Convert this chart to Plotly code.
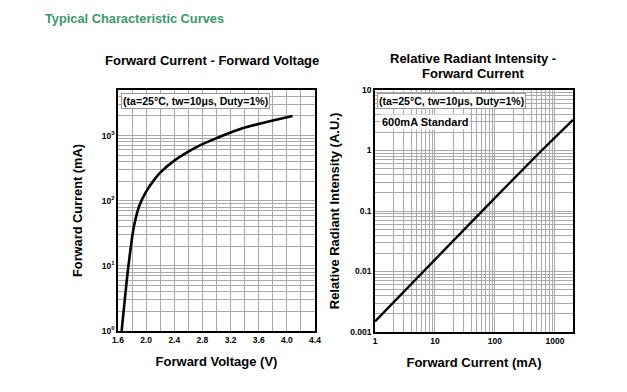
import plotly.graph_objects as go
import numpy as np

# ---- data ----
fv_voltage = [1.652, 1.747, 1.826, 1.907, 2.00, 2.095, 2.213, 2.40, 2.60, 2.80, 3.00, 3.20, 3.43, 3.71, 4.08]
fv_current = [1.0, 9.7, 40.0, 86.0, 138.0, 196.0, 279.0, 412.0, 567.0, 738.0, 912.0, 1112.0, 1350.0, 1608.0, 2000.0]

ri_current = [1, 10, 100, 600, 2000]
ri_intensity = [0.0015, 0.016, 0.165, 1.0, 3.2]

fv_xticks = [1.6, 2.0, 2.4, 2.8, 3.2, 3.6, 4.0, 4.4]
fv_xtext = ["1.6", "2.0", "2.4", "2.8", "3.2", "3.6", "4.0", "4.4"]
fv_yticks = [1, 10, 100, 1000]
fv_ytext = ["10<sup>0</sup>", "10<sup>1</sup>", "10<sup>2</sup>", "10<sup>3</sup>"]
ri_xticks = [1, 10, 100, 1000]
ri_xtext = ["1", "10", "100", "1000"]
ri_yticks = [0.001, 0.01, 0.1, 1, 10]
ri_ytext = ["0.001", "0.01", "0.1", "1", "10"]

W, H = 627, 392
def px(x):
    return x / W
def py(y):
    return 1 - y / H

FONT = "Liberation Sans, Arial, sans-serif"
GRID = "#aaaaaa"

def log_grid(lo_exp, hi_exp, extra_hi=None):
    vals = []
    for e in range(lo_exp, hi_exp):
        for m in range(1, 10):
            vals.append(m * 10.0 ** e)
    if extra_hi:
        vals += extra_hi
    return vals

fig = go.Figure()
fig.add_trace(go.Scatter(x=fv_voltage, y=fv_current, mode="lines",
                         line=dict(color="black", width=2.6, shape="spline", smoothing=0.8),
                         xaxis="x", yaxis="y", showlegend=False))
fig.add_trace(go.Scatter(x=ri_current, y=ri_intensity, mode="lines", line=dict(color="black", width=2.4),
                         xaxis="x2", yaxis="y2", showlegend=False))

tickfont = dict(family=FONT, size=8.5, color="black", weight="bold")
titlefont = dict(family=FONT, size=13, color="black", weight="bold")

fv_xgrid = [round(1.6 + 0.2 * i, 1) for i in range(15)]
fv_ygrid = log_grid(0, 3, [2000, 3000, 4000, 5000])
ri_xgrid = log_grid(0, 3, [2000])
ri_ygrid = log_grid(-3, 1)

axis_common = dict(showline=True, linecolor="black", linewidth=1.5, mirror=True, showgrid=True,
                   gridcolor=GRID, gridwidth=1.3, ticks="", zeroline=False, tickfont=tickfont,
                   tickmode="array", automargin=False)

def minor(vals):
    return dict(tickmode="array", tickvals=vals, showgrid=True, gridcolor=GRID, gridwidth=1.3, ticks="")

fig.update_layout(
    width=W, height=H, autosize=False,
    margin=dict(l=0, r=0, t=0, b=0),
    paper_bgcolor="white", plot_bgcolor="white",
    title=dict(text="Typical Characteristic Curves", x=px(45), y=py(19), xref="paper", yref="paper",
               xanchor="left", yanchor="middle",
               font=dict(family=FONT, size=12.8, color="#3a9a6c", weight="bold")),
    xaxis=dict(domain=[px(118), px(315)], range=[1.6, 4.4], anchor="y",
               tickvals=fv_xticks, ticktext=fv_xtext, minor=minor(fv_xgrid),
               title=dict(text="Forward Voltage (V)", font=titlefont, standoff=13), **axis_common),
    yaxis=dict(domain=[py(331), py(90)], type="log", range=[0, np.log10(5000)], anchor="x",
               tickvals=fv_yticks, ticktext=fv_ytext, minor=minor(fv_ygrid),
               title=dict(text="Forward Current (mA)", font=dict(titlefont, size=12.8), standoff=16), **axis_common),
    xaxis2=dict(domain=[px(375), px(573)], type="log", range=[0, np.log10(2000)], anchor="y2",
                tickvals=ri_xticks, ticktext=ri_xtext, minor=minor(ri_xgrid),
                title=dict(text="Forward Current (mA)", font=titlefont, standoff=13), **axis_common),
    yaxis2=dict(domain=[py(332), py(90)], type="log", range=[-3, 1], anchor="x2",
                tickvals=ri_yticks, ticktext=ri_ytext, minor=minor(ri_ygrid),
                title=dict(text="Relative Radiant Intensity (A.U.)", font=titlefont, standoff=8), **axis_common),
)

def txt(text, x, y, size=12, color="black", xanchor="center", yanchor="middle", angle=0, bold=True, **kw):
    fig.add_annotation(text=text, x=px(x), y=py(y), xref="paper", yref="paper", showarrow=False,
                       xanchor=xanchor, yanchor=yanchor, textangle=angle,
                       font=dict(family=FONT, size=size, color=color, weight="bold" if bold else "normal"), **kw)

txt("Forward Current - Forward Voltage", 212, 60, size=13)
txt("Relative Radiant Intensity -", 473, 59, size=13)
txt("Forward Current", 473, 73, size=13)

txt("(ta=25°C, tw=10μs, Duty=1%)", 121, 101, size=10.6, xanchor="left",
    bgcolor="white", bordercolor="#999999", borderwidth=1, borderpad=1)
txt("(ta=25°C, tw=10μs, Duty=1%)", 377, 101, size=10.6, xanchor="left",
    bgcolor="white", bordercolor="#999999", borderwidth=1, borderpad=1)
txt("600mA Standard", 380, 122, size=11, xanchor="left", bgcolor="white", borderpad=1)

fig.write_html("out.html", config={"displayModeBar": False},
               post_script="document.body.style.margin='0';document.body.style.overflow='hidden';")
